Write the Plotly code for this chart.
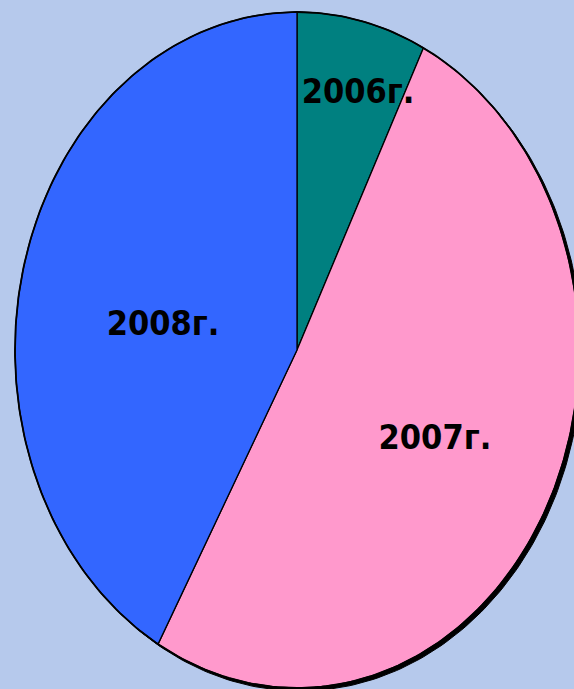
import numpy as np
import plotly.graph_objects as go

# ---- data ----
categories = ["2006г.", "2007г.", "2008г."]
values = [7.4, 50.8, 41.8]
colors = ["#008080", "#FF99CC", "#3366FF"]

# ---- layout constants (pixels) ----
W, H = 574, 689
CX, CY = 297, 350
RX, RY = 282, 338
label_r = [0.785, 0.557, 0.48]     # radial placement of labels (fraction of radius)
label_da = [2.7, 0.5, -6.6]        # angular nudge of labels (degrees)


def ell(theta_deg, r=1.0, dx=0.0, dy=0.0):
    t = np.radians(theta_deg)
    return CX + dx + r * RX * np.sin(t), CY + dy - r * RY * np.cos(t)


fig = go.Figure()

# shadow under the ellipse (bottom-right)
th = np.linspace(0, 360, 361)
sx, sy = ell(th, 1.0, 3, 3)
fig.add_trace(go.Scatter(x=sx, y=sy, fill="toself", fillcolor="black",
                         line=dict(color="black", width=1), mode="lines",
                         hoverinfo="skip", showlegend=False))

total = sum(values)
start = 0.0
label_x, label_y = [], []
for cat, v, c, lr, da in zip(categories, values, colors, label_r, label_da):
    span = 360.0 * v / total
    a = np.linspace(start, start + span, max(int(span * 2), 4))
    ex, ey = ell(a)
    xs = np.concatenate([[CX], ex, [CX]])
    ys = np.concatenate([[CY], ey, [CY]])
    fig.add_trace(go.Scatter(x=xs, y=ys, fill="toself", fillcolor=c,
                             line=dict(color="black", width=1.3), mode="lines",
                             name=cat, hoverinfo="name", showlegend=False))
    mx, my = ell(start + span / 2 + da, lr)
    label_x.append(float(mx))
    label_y.append(float(my))
    start += span

# outer rim
ox, oy = ell(th)
fig.add_trace(go.Scatter(x=ox, y=oy, mode="lines", line=dict(color="black", width=1.8),
                         hoverinfo="skip", showlegend=False))

fig.add_trace(go.Scatter(x=label_x, y=label_y, mode="text", text=categories,
                         textfont=dict(family="DejaVu Sans Condensed",
                                       size=34, color="black", weight="bold"),
                         hoverinfo="skip", showlegend=False))

fig.update_layout(
    width=W, height=H,
    margin=dict(l=0, r=0, t=0, b=0),
    paper_bgcolor="#b6c9ec",
    plot_bgcolor="rgba(0,0,0,0)",
    xaxis=dict(range=[0, W], visible=False, fixedrange=True),
    yaxis=dict(range=[H, 0], visible=False, fixedrange=True),
    showlegend=False,
)

fig.write_html("out.html",
               config={"displayModeBar": False},
               post_script="document.body.style.margin='0';document.body.style.padding='0';")
